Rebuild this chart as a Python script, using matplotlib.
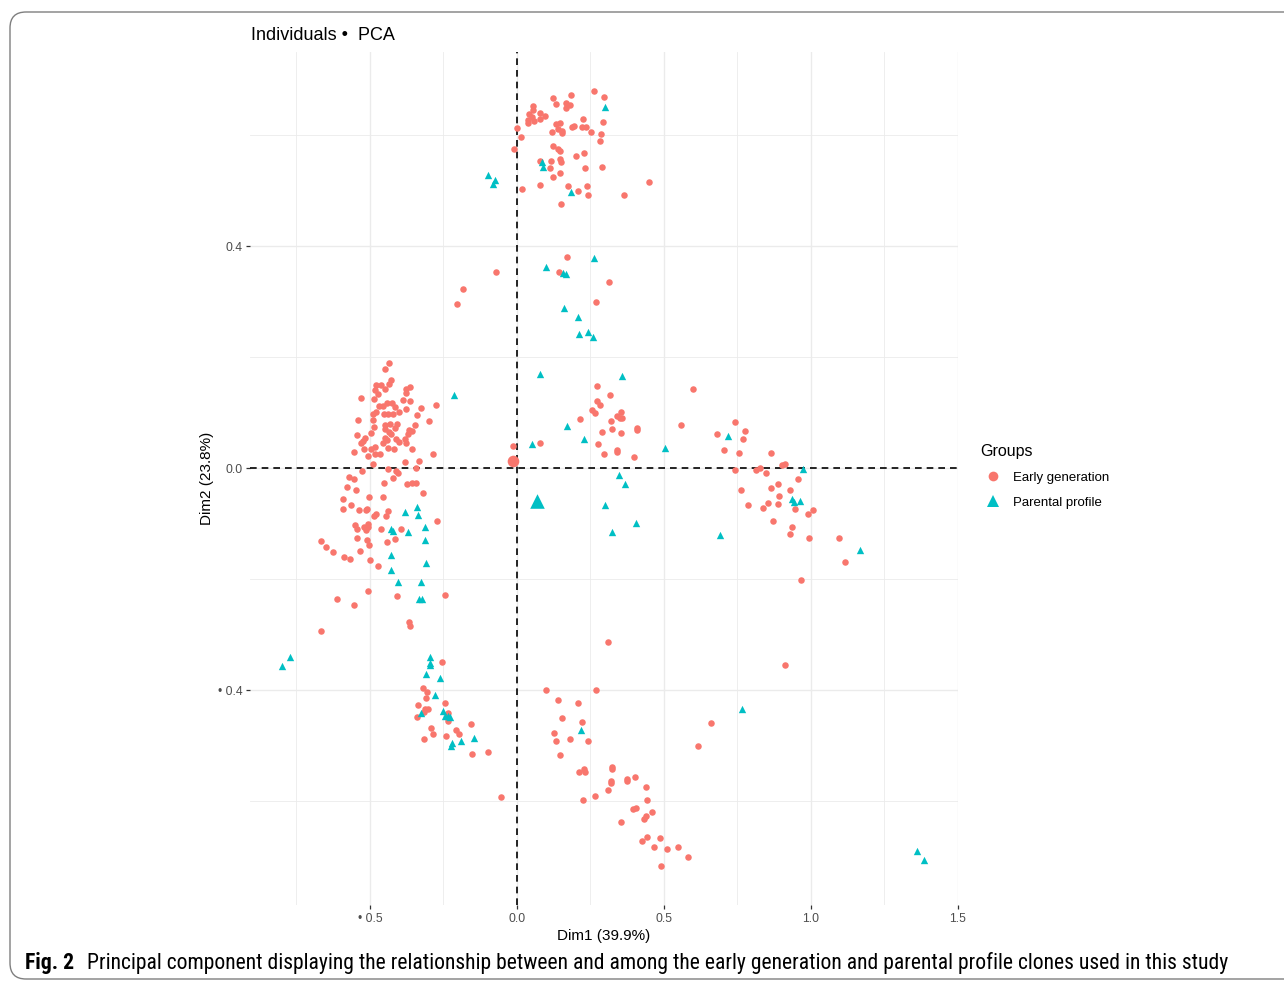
import matplotlib
matplotlib.use("Agg")
import matplotlib.pyplot as plt
from matplotlib.lines import Line2D
from matplotlib.patches import FancyBboxPatch
from matplotlib import font_manager
import numpy as np

# ---- data: PCA individual coordinates (Dim1, Dim2) ----
early_x = [
    0.001, 0.013, -0.009, 0.017, 0.121, 0.133, 0.183, 0.168, 0.180, 0.167, 0.261, 0.295, 0.053, 0.054,
    0.041, 0.052, 0.079, 0.096, 0.078, 0.038, 0.058, 0.038, 0.133, 0.146, 0.140, 0.153, 0.153, 0.119,
    0.187, 0.194, 0.220, 0.235, 0.223, 0.252, 0.293, 0.286, 0.282, 0.123, 0.140, 0.146, 0.201, 0.228,
    0.115, 0.146, 0.150, 0.078, 0.112, 0.146, 0.121, 0.232, 0.290, 0.078, 0.173, 0.206, 0.237, 0.240,
    0.149, 0.363, 0.449,
    0.169, 0.144, 0.313, 0.268, -0.072, -0.185, -0.203, 0.271, 0.315, 0.600, 0.271, 0.283, 0.254, 0.266,
    0.353, 0.341, 0.350, 0.357, 0.213, 0.319, 0.407, 0.407, 0.324, 0.289, 0.354, 0.559, 0.274, 0.339,
    0.339, 0.296, 0.397, 0.078, -0.013,
    0.741, 0.774, 0.681, 0.768, 0.703, 0.756, 0.863, 0.900, 0.910, 0.741, 0.812, 0.827, 0.848, 0.955,
    0.761, 0.863, 0.888, 0.890, 0.930, 0.785, 0.836, 0.853, 0.888, 0.945, 0.989, 1.007, 0.870, 0.934,
    0.930, 0.994, 1.095, 1.116, 0.965, 0.912, 0.660, 0.616, 0.310,
    -0.434, -0.450, -0.427, -0.436, -0.480, -0.462, -0.448, -0.482, -0.473, -0.486, -0.530, -0.378,
    -0.363, -0.377, -0.389, -0.364, -0.274, -0.328, -0.468, -0.455, -0.443, -0.425, -0.414, -0.377,
    -0.480, -0.489, -0.452, -0.439, -0.421, -0.400, -0.339, -0.300, -0.540, -0.490, -0.450, -0.433,
    -0.409, -0.346, -0.486, -0.448, -0.415, -0.366, -0.358, -0.371, -0.498, -0.434, -0.430, -0.545,
    -0.518, -0.522, -0.531, -0.450, -0.441, -0.457, -0.410, -0.402, -0.380, -0.378, -0.438, -0.417,
    -0.520, -0.497, -0.483, -0.358, -0.555, -0.483, -0.466, -0.507, -0.287, -0.380, -0.333, -0.489,
    -0.527, -0.439, -0.345, -0.411, -0.404, -0.570, -0.554, -0.423, -0.452, -0.579, -0.547, -0.373,
    -0.358, -0.344, -0.319, -0.502, -0.455, -0.592,
    -0.592, -0.564, -0.536, -0.513, -0.511, -0.439, -0.480, -0.485, -0.445, -0.272, -0.507, -0.550,
    -0.545, -0.519, -0.512, -0.508, -0.464, -0.396, -0.414, -0.543, -0.510, -0.504, -0.443, -0.668,
    -0.650, -0.627, -0.534, -0.589, -0.568, -0.501, -0.474, -0.506, -0.613, -0.555, -0.409, -0.246,
    -0.368, -0.365, -0.666,
    -0.254, -0.320, -0.307, -0.311, -0.338, -0.244, -0.312, -0.303, -0.316, -0.341, -0.234, -0.234,
    -0.157, -0.209, -0.196, -0.293, -0.286, -0.315, -0.241, -0.154, -0.099, -0.054,
    0.100, 0.268, 0.138, 0.209, 0.153, 0.222, 0.125, 0.134, 0.180, 0.240, 0.145, 0.228, 0.231, 0.212,
    0.322, 0.324, 0.319, 0.321, 0.375, 0.373, 0.401, 0.439, 0.310, 0.266, 0.226, 0.442, 0.396, 0.404,
    0.460, 0.439, 0.432, 0.355, 0.442, 0.426, 0.486, 0.467, 0.510, 0.548, 0.582, 0.489,
]
early_y = [
    0.613, 0.597, 0.575, 0.503, 0.667, 0.655, 0.672, 0.658, 0.654, 0.649, 0.679, 0.669, 0.652, 0.645,
    0.637, 0.633, 0.639, 0.635, 0.628, 0.627, 0.625, 0.621, 0.620, 0.622, 0.610, 0.608, 0.603, 0.605,
    0.615, 0.617, 0.615, 0.614, 0.629, 0.605, 0.623, 0.602, 0.590, 0.580, 0.575, 0.572, 0.563, 0.568,
    0.553, 0.556, 0.551, 0.554, 0.541, 0.532, 0.525, 0.541, 0.542, 0.510, 0.509, 0.499, 0.508, 0.492,
    0.475, 0.492, 0.515,
    0.381, 0.353, 0.336, 0.299, 0.353, 0.323, 0.295, 0.148, 0.132, 0.142, 0.120, 0.114, 0.105, 0.100,
    0.101, 0.094, 0.091, 0.091, 0.088, 0.085, 0.073, 0.068, 0.070, 0.065, 0.064, 0.077, 0.043, 0.032,
    0.029, 0.025, 0.020, 0.046, 0.040,
    0.083, 0.067, 0.062, 0.052, 0.032, 0.028, 0.028, 0.005, 0.007, -0.003, -0.003, 0.001, -0.009, -0.019,
    -0.040, -0.035, -0.029, -0.050, -0.040, -0.066, -0.072, -0.062, -0.064, -0.073, -0.082, -0.076,
    -0.095, -0.107, -0.118, -0.126, -0.126, -0.170, -0.201, -0.355, -0.459, -0.501, -0.314,
    0.189, 0.179, 0.159, 0.152, 0.150, 0.150, 0.142, 0.140, 0.133, 0.124, 0.127, 0.142,
    0.146, 0.136, 0.122, 0.121, 0.114, 0.109, 0.112, 0.112, 0.118, 0.118, 0.110, 0.106,
    0.101, 0.098, 0.097, 0.098, 0.098, 0.101, 0.095, 0.085, 0.086, 0.086, 0.078, 0.079,
    0.080, 0.078, 0.074, 0.071, 0.072, 0.068, 0.067, 0.062, 0.063, 0.065, 0.062, 0.060,
    0.054, 0.049, 0.046, 0.055, 0.050, 0.046, 0.052, 0.047, 0.052, 0.045, 0.037, 0.035,
    0.035, 0.035, 0.038, 0.034, 0.029, 0.025, 0.026, 0.021, 0.025, 0.011, 0.012, 0.008,
    -0.005, -0.001, 0.001, -0.006, -0.008, -0.016, -0.019, -0.017, -0.026, -0.034, -0.040, -0.029,
    -0.026, -0.027, -0.044, -0.052, -0.052, -0.056,
    -0.073, -0.066, -0.076, -0.076, -0.073, -0.077, -0.083, -0.087, -0.087, -0.096, -0.100, -0.103,
    -0.109, -0.106, -0.112, -0.106, -0.109, -0.110, -0.127, -0.126, -0.129, -0.139, -0.134, -0.132,
    -0.143, -0.151, -0.150, -0.160, -0.163, -0.165, -0.177, -0.221, -0.236, -0.247, -0.230, -0.229,
    -0.277, -0.284, -0.293,
    -0.350, -0.396, -0.404, -0.415, -0.426, -0.424, -0.434, -0.434, -0.439, -0.448, -0.441, -0.456,
    -0.461, -0.472, -0.479, -0.468, -0.479, -0.488, -0.483, -0.515, -0.512, -0.592,
    -0.400, -0.399, -0.418, -0.424, -0.450, -0.458, -0.477, -0.491, -0.488, -0.492, -0.517, -0.542,
    -0.548, -0.548, -0.539, -0.542, -0.564, -0.568, -0.560, -0.563, -0.557, -0.574, -0.580, -0.590,
    -0.598, -0.598, -0.614, -0.613, -0.620, -0.626, -0.632, -0.637, -0.665, -0.671, -0.666, -0.683,
    -0.687, -0.683, -0.700, -0.717,
]

parental_x = [
    0.300, 0.085, 0.088, -0.099, -0.076, -0.081, 0.183,
    0.262, 0.099, 0.158, 0.167, 0.161, 0.207, 0.210, 0.243, 0.259, 0.077, 0.357, -0.215, 0.170,
    0.228, 0.051, 0.504, 0.347, 0.367, 0.300, 0.404, 0.324,
    0.718, 0.974, 0.936, 0.941, 0.963, 0.690, 1.167, 0.765, 1.361, 1.384,
    -0.339, -0.381, -0.338, -0.428, -0.421, -0.370, -0.313, -0.312, -0.428, -0.310, -0.429, -0.404,
    -0.327, -0.333, -0.324,
    -0.771, -0.798, -0.297, -0.297, -0.295, -0.308, -0.261, -0.280, -0.326, -0.253, -0.245, -0.236,
    -0.227, -0.222, -0.223, -0.190, -0.145,
    0.219,
]
parental_y = [
    0.651, 0.551, 0.542, 0.528, 0.519, 0.512, 0.497,
    0.379, 0.363, 0.351, 0.350, 0.288, 0.273, 0.241, 0.246, 0.236, 0.170, 0.165, 0.132, 0.076,
    0.052, 0.043, 0.037, -0.013, -0.029, -0.067, -0.099, -0.115,
    0.058, -0.001, -0.055, -0.061, -0.059, -0.120, -0.147, -0.434, -0.690, -0.706,
    -0.070, -0.079, -0.084, -0.110, -0.114, -0.115, -0.107, -0.130, -0.156, -0.171, -0.184, -0.205,
    -0.206, -0.235, -0.235,
    -0.341, -0.357, -0.341, -0.351, -0.354, -0.371, -0.379, -0.409, -0.442, -0.438, -0.446, -0.446,
    -0.448, -0.496, -0.501, -0.491, -0.486,
    -0.471,
]

# group centres
early_mean = (-0.015, 0.013)
parental_mean = (0.069, -0.059)

group_labels = ["Early generation", "Parental profile"]
x_ticks = [-0.5, 0.0, 0.5, 1.0, 1.5]
x_ticklabels = ["\u2022 0.5", "0.0", "0.5", "1.0", "1.5"]
y_ticks = [-0.4, 0.0, 0.4]
y_ticklabels = ["\u2022 0.4", "0.0", "0.4"]

RED = "#F8766D"
TEAL = "#00BFC4"
W, H = 1284, 981

plt.rcParams["font.family"] = ["Liberation Sans", "DejaVu Sans"]


def font_available(name):
    try:
        font_manager.findfont(font_manager.FontProperties(family=name), fallback_to_default=False)
        return True
    except Exception:
        return False


# caption font: a condensed face when one is installed
caption_family, caption_size = ["Liberation Sans", "DejaVu Sans"], 13.8
for cand in ["Liberation Sans Narrow", "DejaVu Sans Condensed", "Roboto Condensed", "Open Sans Condensed"]:
    if font_available(cand):
        caption_family, caption_size = [cand, "DejaVu Sans"], 15.6
        break

fig = plt.figure(figsize=(W / 100, H / 100), dpi=100)
fig.patch.set_facecolor("white")

# rounded frame around the figure
frame = FancyBboxPatch((0.10, 0.02), 13.5, 9.69 - 0.02,
                       boxstyle="round,pad=0,rounding_size=0.16",
                       transform=fig.dpi_scale_trans, fill=False,
                       edgecolor="#7f7f7f", linewidth=1.0, zorder=0)
fig.patches.append(frame)

left, right, top, bottom = 250, 958, 52, 905
ax = fig.add_axes([left / W, 1 - bottom / H, (right - left) / W, (bottom - top) / H])
ax.set_facecolor("white")

ax.set_xlim(-0.908, 1.5)
ax.set_ylim(-0.787, 0.7495)

for s in ax.spines.values():
    s.set_visible(False)

ax.set_xticks(x_ticks)
ax.set_xticklabels(x_ticklabels)
ax.set_yticks(y_ticks)
ax.set_yticklabels(y_ticklabels)
ax.set_xticks([-0.75, -0.25, 0.25, 0.75, 1.25], minor=True)
ax.set_yticks([-0.6, -0.2, 0.2, 0.6], minor=True)
ax.tick_params(axis="both", which="major", length=3, width=0.9, color="#333333",
               labelcolor="#4D4D4D", labelsize=8.7, pad=2.5)
ax.tick_params(axis="both", which="minor", length=0)
ax.grid(True, which="major", color="#EBEBEB", linewidth=1.0)
ax.grid(True, which="minor", color="#EBEBEB", linewidth=0.6)
ax.set_axisbelow(True)

ax.axhline(0, color="black", linestyle=(0, (4, 3)), linewidth=1.2, zorder=2)
ax.axvline(0, color="black", linestyle=(0, (4, 3)), linewidth=1.2, zorder=2)

ax.scatter(early_x, early_y, s=22, marker="o", color=RED, linewidths=0, zorder=3)
ax.scatter(parental_x, parental_y, s=28, marker="^", color=TEAL, linewidths=0, zorder=3)
ax.scatter([early_mean[0]], [early_mean[1]], s=70, marker="o", color=RED, linewidths=0, zorder=4)
ax.scatter([parental_mean[0]], [parental_mean[1]], s=110, marker="^", color=TEAL, linewidths=0, zorder=4)

ax.set_xlabel("Dim1 (39.9%)", fontsize=11, color="black", labelpad=3)
ax.set_ylabel("Dim2 (23.8%)", fontsize=11, color="black", labelpad=3)

fig.text(251 / W, 1 - 35 / H, "Individuals \u2022  PCA", fontsize=13, ha="left", va="center")

handles = [
    Line2D([], [], linestyle="none", marker="o", markersize=7, color=RED, markeredgewidth=0),
    Line2D([], [], linestyle="none", marker="^", markersize=8, color=TEAL, markeredgewidth=0),
]
leg = fig.legend(handles, group_labels, title="Groups", loc="upper left",
                 bbox_to_anchor=(968 / W, 1 - 432 / H), frameon=False,
                 fontsize=9.5, title_fontsize=11.5, alignment="left",
                 handletextpad=0.5, labelspacing=0.96, handlelength=2.0)

cap_y = 1 - 963 / H
fig.text(25 / W, cap_y, "Fig. 2", fontsize=caption_size, fontweight="bold", ha="left", va="center",
         family=caption_family)
fig.text(87 / W, cap_y,
         "Principal component displaying the relationship between and among the early generation "
         "and parental profile clones used in this study",
         fontsize=caption_size, ha="left", va="center", family=caption_family)

fig.savefig("out.png", dpi=100)
